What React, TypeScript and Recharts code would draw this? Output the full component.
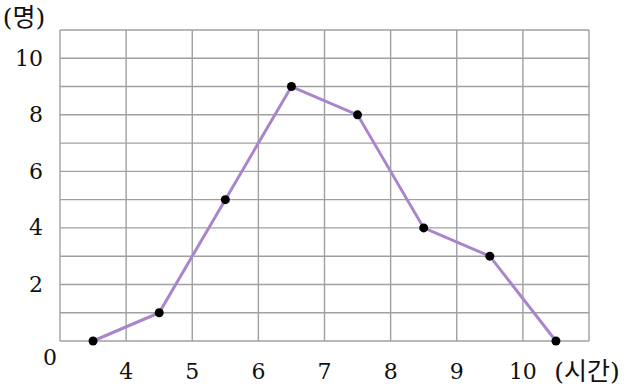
import { LineChart, Line, XAxis, YAxis, CartesianGrid } from 'recharts';

const hours = [3.5, 4.5, 5.5, 6.5, 7.5, 8.5, 9.5, 10.5];
const students = [0, 1, 5, 9, 8, 4, 3, 0];
const xTicks = [3, 4, 5, 6, 7, 8, 9, 10, 11];
const yTicks = [0, 1, 2, 3, 4, 5, 6, 7, 8, 9, 10, 11];
const xLabels = [4, 5, 6, 7, 8, 9, 10];
const yLabels = [2, 4, 6, 8, 10];

const data = hours.map((h, i) => ({ hours: h, count: students[i] }));

const font = '"DejaVu Serif", "Noto Sans CJK KR", serif';
const txt = { fontFamily: font, fontSize: 22, fill: '#111' };
const kor = { ...txt, fontSize: 25 };

const XTick = ({ x, y, payload }: any) =>
  xLabels.includes(payload.value) ? (
    <text x={x} y={y + 30} textAnchor="middle" dominantBaseline="central" style={txt}>
      {payload.value}
    </text>
  ) : null;

const YTick = ({ x, y, payload }: any) =>
  yLabels.includes(payload.value) ? (
    <text x={x - 17} y={y} textAnchor="end" dominantBaseline="central" style={txt}>
      {payload.value}
    </text>
  ) : null;

export default function App() {
  return (
    <div style={{ position: 'absolute', left: 0, top: 0, background: '#fff' }}>
      <LineChart width={628} height={389} data={data} margin={{ top: 30, right: 39, bottom: 0, left: 0 }}>
        <CartesianGrid stroke="#a0a0a0" strokeWidth={1.4} />
        <XAxis
          dataKey="hours"
          type="number"
          domain={[3, 11]}
          ticks={xTicks}
          height={48}
          axisLine={false}
          tickLine={false}
          tickSize={0}
          tickMargin={0}
          tick={<XTick />}
          interval={0}
        />
        <YAxis
          type="number"
          domain={[0, 11]}
          ticks={yTicks}
          width={60}
          axisLine={false}
          tickLine={false}
          tickSize={0}
          tickMargin={0}
          tick={<YTick />}
          interval={0}
        />
        <Line
          dataKey="count"
          stroke="#ab85cb"
          strokeWidth={3}
          dot={{ r: 4.5, fill: '#000', stroke: '#000', strokeWidth: 0 }}
          isAnimationActive={false}
        />
        <text x={50} y={357} textAnchor="middle" dominantBaseline="central" style={txt}>0</text>
        <text x={24} y={17} textAnchor="middle" dominantBaseline="central" style={kor}>(명)</text>
        <text x={587} y={371} textAnchor="middle" dominantBaseline="central" style={kor}>(시간)</text>
      </LineChart>
    </div>
  );
}
